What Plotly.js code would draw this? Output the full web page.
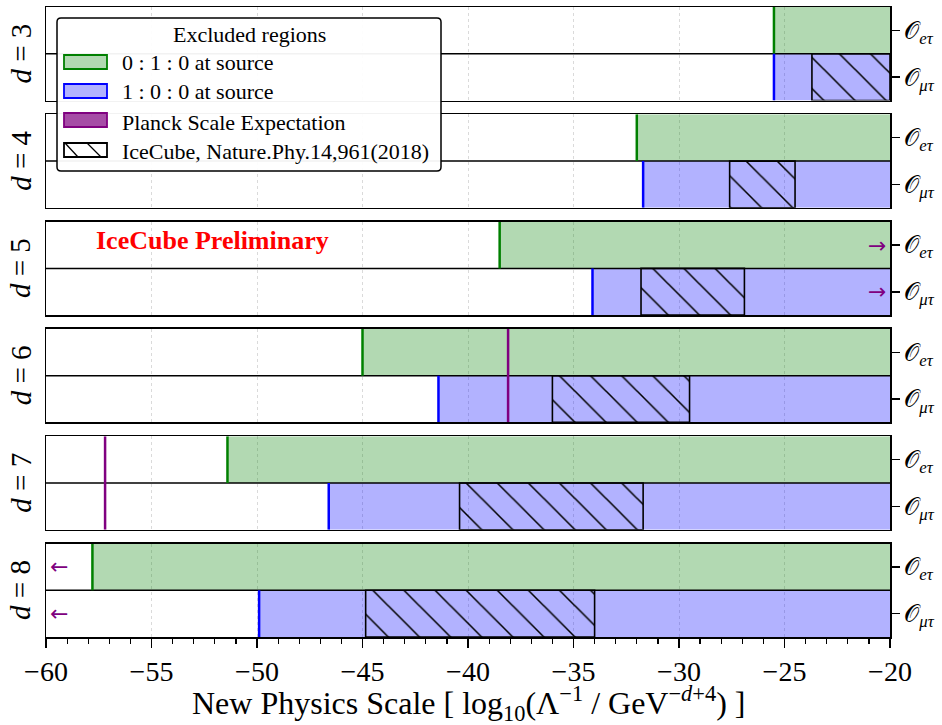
<!DOCTYPE html>
<html>
<head>
<meta charset="utf-8">
<script src="https://cdn.plot.ly/plotly-3.0.1.min.js"></script>
<style>html,body{margin:0;padding:0;background:#fff;} #chart{width:942px;height:725px;}</style>
</head>
<body>
<div id="chart"></div>
<script>
// ---- data ----
const dims = [3, 4, 5, 6, 7, 8];
const greenStart = [-25.5, -32.0, -38.5, -45.0, -51.4, -57.8];
const blueStart  = [-25.5, -31.7, -34.1, -41.4, -46.6, -49.9];
const hatchStart = [-23.7, -27.6, -31.8, -36.0, -40.4, -44.85];
const hatchEnd   = [-20.0, -24.5, -26.9, -29.5, -31.7, -34.0];
const planckLine = [null, null, null, -38.1, -57.2, null];
const planckArrowX = [null, null, -20.6, null, null, -59.4];
const planckArrowGlyph = [null, null, '→', null, null, '←'];
const xRange = [-60, -20];
const rowVals = [0, 1];
const rowLabels = ['𝒪<sub><i>μτ</i></sub>', '𝒪<sub><i>eτ</i></sub>'];
const tickVals = [-60, -55, -50, -45, -40, -35, -30, -25, -20];
const tickLabels = ['−60', '−55', '−50', '−45', '−40', '−35', '−30', '−25', '−20'];
const xTitle = 'New Physics Scale [ log<sub>10</sub>(Λ<sup>−1</sup> / GeV<sup>−<i>d</i>+4</sup>) ]';
const legendTitle = 'Excluded regions';
const legendLabels = ['0 : 1 : 0 at source', '1 : 0 : 0 at source', 'Planck Scale Expectation', 'IceCube, Nature.Phy.14,961(2018)'];

// ---- styles ----
const FONT = 'Liberation Serif, DejaVu Serif, serif';
const GREEN_FILL = 'rgba(0,128,0,0.3)';
const BLUE_FILL = 'rgba(0,0,255,0.3)';
const GREEN = '#008000', BLUE = '#0000ff', PURPLE = '#800080';

const H = 0.1484, G = 0.0219;
const traces = [];
const layout = {
  width: 942, height: 725,
  margin: {l: 46, r: 52, t: 7, b: 88},
  paper_bgcolor: '#fff', plot_bgcolor: '#fff',
  showlegend: false,
  barmode: 'overlay',
  font: {family: FONT, color: '#000', size: 22},
  shapes: [], annotations: []
};

dims.forEach((d, i) => {
  const n = 6 - i;              // axis number (d=8 -> 1, bottom)
  const k = n - 1;              // position from bottom
  const xa = n === 1 ? 'x' : 'x' + n;
  const ya = n === 1 ? 'y' : 'y' + n;
  const xKey = n === 1 ? 'xaxis' : 'xaxis' + n;
  const yKey = n === 1 ? 'yaxis' : 'yaxis' + n;
  const y0 = k * (H + G);

  layout[xKey] = {
    range: xRange, anchor: ya, showline: true, mirror: true,
    linecolor: '#000', linewidth: 1.5,
    showgrid: true, gridcolor: '#dadada', griddash: 'dot', gridwidth: 1,
    zeroline: false, tickvals: tickVals, ticktext: tickLabels,
    showticklabels: n === 1, ticks: n === 1 ? 'outside' : '',
    ticklen: 9, tickwidth: 1.5, tickcolor: '#000',
    tickfont: {family: FONT, size: 28},
    fixedrange: true
  };
  if (n !== 1) layout[xKey].matches = 'x';
  if (n === 1) {
    layout[xKey].minor = {dtick: 1, ticks: 'outside', ticklen: 5, tickwidth: 1.2, tickcolor: '#000', showgrid: false};
  }
  layout[yKey] = {
    domain: [y0, y0 + H], range: [-0.5, 1.5], anchor: xa, side: 'right',
    showline: true, mirror: true, linecolor: '#000', linewidth: 1.5,
    showgrid: false, zeroline: false,
    tickvals: rowVals, ticktext: rowLabels, ticks: 'outside', ticklen: 8, tickwidth: 1.5, tickcolor: '#000',
    tickfont: {family: FONT, size: 24}, fixedrange: true
  };

  // green region (top row)
  traces.push({type: 'bar', orientation: 'h', xaxis: xa, yaxis: ya,
    y: [rowVals[1]], base: [greenStart[i]], x: [xRange[1] - greenStart[i]], width: [1],
    marker: {color: GREEN_FILL, line: {width: 0}}, hoverinfo: 'skip'});
  // blue region (bottom row)
  traces.push({type: 'bar', orientation: 'h', xaxis: xa, yaxis: ya,
    y: [rowVals[0]], base: [blueStart[i]], x: [xRange[1] - blueStart[i]], width: [1],
    marker: {color: BLUE_FILL, line: {width: 0}}, hoverinfo: 'skip'});
  // IceCube hatched region
  traces.push({type: 'bar', orientation: 'h', xaxis: xa, yaxis: ya,
    y: [rowVals[0]], base: [hatchStart[i]], x: [hatchEnd[i] - hatchStart[i]], width: [1],
    marker: {color: 'rgba(0,0,0,0)', line: {width: 1.6, color: '#000'},
      pattern: {shape: '\\', fgcolor: '#000', bgcolor: 'rgba(0,0,0,0)', size: 22, solidity: 0.07, fillmode: 'replace'}},
    hoverinfo: 'skip'});
  // middle divider
  traces.push({type: 'scatter', mode: 'lines', xaxis: xa, yaxis: ya,
    x: xRange, y: [0.5, 0.5], line: {color: '#000', width: 1.5}, hoverinfo: 'skip'});
  // green edge
  traces.push({type: 'scatter', mode: 'lines', xaxis: xa, yaxis: ya,
    x: [greenStart[i], greenStart[i]], y: [0.5, 1.5], line: {color: GREEN, width: 2.5}, hoverinfo: 'skip'});
  // blue edge
  traces.push({type: 'scatter', mode: 'lines', xaxis: xa, yaxis: ya,
    x: [blueStart[i], blueStart[i]], y: [-0.5, 0.5], line: {color: BLUE, width: 2.5}, hoverinfo: 'skip'});
  // Planck line
  if (planckLine[i] !== null) {
    traces.push({type: 'scatter', mode: 'lines', xaxis: xa, yaxis: ya,
      x: [planckLine[i], planckLine[i]], y: [-0.5, 1.5], line: {color: PURPLE, width: 2.5}, hoverinfo: 'skip'});
  }
  // Planck arrows (out of range)
  if (planckArrowX[i] !== null) {
    rowVals.forEach(rv => {
      layout.annotations.push({xref: xa, yref: ya, x: planckArrowX[i], y: rv, text: planckArrowGlyph[i],
        showarrow: false, font: {family: 'DejaVu Sans', size: 22, color: PURPLE}, xanchor: 'center', yanchor: 'middle'});
    });
  }
  // d label on left
  layout.annotations.push({xref: 'paper', yref: 'paper', x: -0.03, y: y0 + H / 2,
    text: '<i>d</i> = ' + d, textangle: -90, showarrow: false, xanchor: 'center', yanchor: 'middle',
    font: {family: FONT, size: 29}});
  if (d === 5) {
    layout.annotations.push({xref: xa, yref: ya, x: -52.1, y: 1.1, text: '<b>IceCube Preliminary</b>',
      showarrow: false, font: {family: FONT, size: 26, color: '#ff0000'}, xanchor: 'center', yanchor: 'middle'});
  }
});

// ---- manual legend (paper coordinates) ----
const px = v => (v - 46) / 844;
const py = v => (637 - v) / 630;

// x-axis title
layout.annotations.push({xref: 'paper', yref: 'paper', x: px(468), y: py(703), text: xTitle, showarrow: false,
  xanchor: 'center', yanchor: 'middle', font: {family: FONT, size: 32}});

function roundRect(x0, y0, x1, y1, r) {
  const rx = r / 844, ry = r / 630;
  const X0 = px(x0), X1 = px(x1), Y0 = py(y1), Y1 = py(y0);
  return `M ${X0 + rx},${Y0} L ${X1 - rx},${Y0} Q ${X1},${Y0} ${X1},${Y0 + ry} L ${X1},${Y1 - ry} Q ${X1},${Y1} ${X1 - rx},${Y1} ` +
         `L ${X0 + rx},${Y1} Q ${X0},${Y1} ${X0},${Y1 - ry} L ${X0},${Y0 + ry} Q ${X0},${Y0} ${X0 + rx},${Y0} Z`;
}
layout.shapes.push({type: 'path', xref: 'paper', yref: 'paper', path: roundRect(57, 18, 441, 171, 4),
  fillcolor: 'rgba(255,255,255,0.95)', line: {color: '#000', width: 1.5}, layer: 'above'});
const patchRows = [[55, 69], [84, 98], [113, 127], [143, 157]];
const patchFill = [GREEN_FILL, BLUE_FILL, 'rgba(128,0,128,0.7)', '#fff'];
const patchEdge = [GREEN, BLUE, PURPLE, '#000'];
patchRows.forEach((r, j) => {
  layout.shapes.push({type: 'rect', xref: 'paper', yref: 'paper', x0: px(64), x1: px(107), y0: py(r[1]), y1: py(r[0]),
    fillcolor: patchFill[j], line: {color: patchEdge[j], width: 1.8}, layer: 'above'});
});
[[65, 78], [87, 101]].forEach(s => {
  layout.shapes.push({type: 'line', xref: 'paper', yref: 'paper', x0: px(s[0]), y0: py(143), x1: px(s[1]), y1: py(157),
    line: {color: '#000', width: 1.3}, layer: 'above'});
});
layout.annotations.push({xref: 'paper', yref: 'paper', x: px(249), y: py(35), text: legendTitle, showarrow: false,
  xanchor: 'center', yanchor: 'middle', font: {family: FONT, size: 22}});
const textRows = [62, 92, 122, 152];
legendLabels.forEach((t, j) => {
  layout.annotations.push({xref: 'paper', yref: 'paper', x: px(120), y: py(textRows[j]), text: t, showarrow: false,
    xanchor: 'left', yanchor: 'middle', font: {family: FONT, size: 22}});
});

Plotly.newPlot('chart', traces, layout, {staticPlot: true, displayModeBar: false});
</script>
</body>
</html>
